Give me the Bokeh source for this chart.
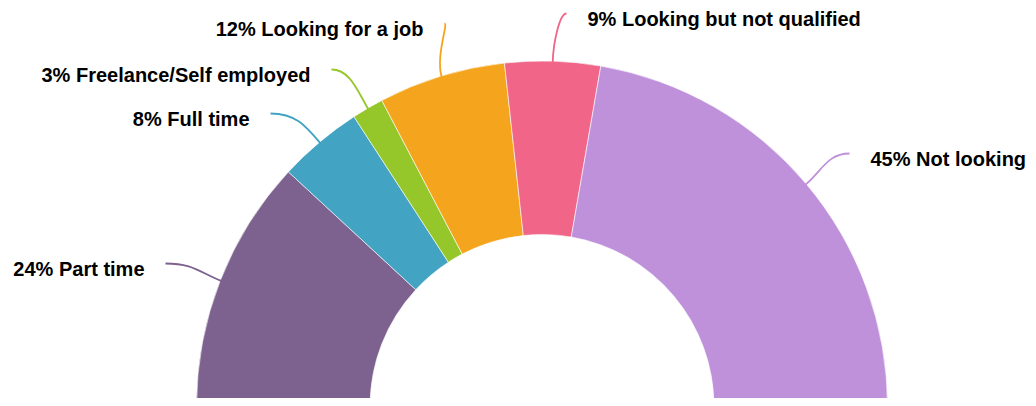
import numpy as np
from bokeh.plotting import figure
from bokeh.models import Range1d, ColumnDataSource
from bokeh.core.properties import value
from bokeh.embed import file_html
from bokeh.resources import INLINE

# ---- data ----
categories = ["Part time", "Full time", "Freelance/Self employed",
              "Looking for a job", "Looking but not qualified", "Not looking"]
percents = [24, 8, 3, 12, 9, 45]
colors = ["#7D618E", "#42A3C3", "#96C72A", "#F4A51D", "#F06588", "#BF91DB"]

# ---- layout (screen pixel positions of the label leader ends) ----
leader_end_screen = [(165, 263), (270, 113), (331, 69), (444, 23), (566, 13), (849, 153)]
label_side = ["left", "left", "left", "left", "right", "right"]

W, H = 1028, 398
TOP = 406  # screen-y reference for converting to data y (data y = TOP - screen y)
cx, cy = 541.5, 0.0
r_out, r_in = 345.5, 172.0

total = float(sum(percents))
cum = np.cumsum([0] + percents)
start = np.pi - cum[1:] / total * np.pi
end = np.pi - cum[:-1] / total * np.pi
mid = (start + end) / 2

wedges = ColumnDataSource(dict(start=start, end=end, color=colors))

p = figure(width=W, height=H, output_backend="svg", toolbar_location=None,
           x_range=Range1d(0, W), y_range=Range1d(TOP - H, TOP), min_border=0)
p.axis.visible = False
p.grid.visible = False
p.outline_line_color = None
p.background_fill_color = "white"
p.border_fill_color = "white"

p.annular_wedge(x=cx, y=cy, inner_radius=r_in, outer_radius=r_out,
                start_angle="start", end_angle="end", direction="anticlock",
                fill_color="color", line_color="white", line_width=0.6,
                source=wedges)

# leader lines
x0 = cx + (r_out - 1) * np.cos(mid)
y0 = cy + (r_out - 1) * np.sin(mid)
x1 = np.array([e[0] for e in leader_end_screen], dtype=float)
y1 = np.array([TOP - e[1] for e in leader_end_screen], dtype=float)
dist = np.hypot(x1 - x0, y1 - y0)
L1 = 0.4 * dist
sgn = np.array([1.0 if s == "left" else -1.0 for s in label_side])
dx = np.maximum(np.abs(x1 - x0) * 0.5, 4)
cx0 = x0 + L1 * np.cos(mid)
cy0 = y0 + L1 * np.sin(mid)
cx1 = x1 + sgn * dx
cy1 = y1

p.bezier(x0=x0, y0=y0, x1=x1, y1=y1, cx0=cx0, cy0=cy0, cx1=cx1, cy1=cy1,
         line_color=colors, line_width=1.8)

labels = [f"{v}% {c}" for v, c in zip(percents, categories)]
tx = x1 - sgn * 21
ty = y1 - 5
aligns = ["right" if s == "left" else "left" for s in label_side]
txt = ColumnDataSource(dict(x=tx, y=ty, text=labels, align=aligns))
p.text(x="x", y="y", text="text", text_align="align", text_baseline="middle",
       text_font=value("Liberation Sans"), text_font_style="bold",
       text_font_size="20px", text_color="#000000", source=txt)

open("out.html", "w").write(file_html(p, INLINE))
